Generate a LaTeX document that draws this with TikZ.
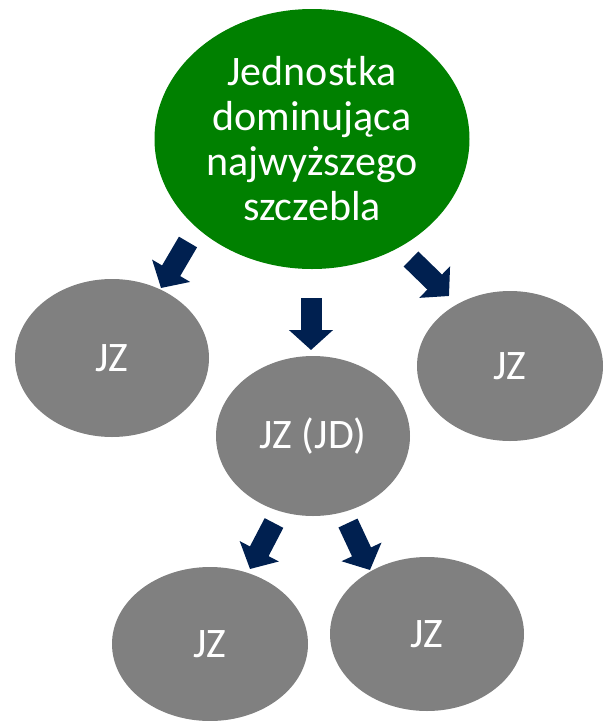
\documentclass[tikz,border=0pt]{standalone}
\usepackage{fontspec}
\setmainfont{Carlito}
\usetikzlibrary{shapes.geometric,arrows.meta}

\definecolor{topgreen}{RGB}{0,128,0}
\definecolor{unitgray}{RGB}{128,128,128}
\definecolor{arrnavy}{RGB}{0,32,80}

\begin{document}
\begin{tikzpicture}[
            x=1pt, y=-1pt,
            unit/.style={ellipse, fill=unitgray, inner sep=0pt, text=white,
                font=\fontsize{42}{45}\selectfont},
            topunit/.style={unit, fill=topgreen, align=center},
            blockarr/.style={draw=arrnavy, line width=21pt,
                -{Triangle[width=43pt, length=20pt]}}
        ]
        \useasboundingbox (0,0) rectangle (604,721);
        \node[topunit, minimum width=315pt, minimum height=260pt] (top) at (312,139)
            {Jednostka\\dominująca\\najwyższego\\szczebla};
        \node[unit, minimum width=194pt, minimum height=158pt] (jzl) at (112,358) {JZ};
        \node[unit, minimum width=186pt, minimum height=150pt] (jzr) at (510,366) {JZ};
        \node[unit, minimum width=194pt, minimum height=160pt] (jd)  at (313,436) {JZ (JD)};
        \node[unit, minimum width=196pt, minimum height=154pt] (jzbl) at (210,644) {JZ};
        \node[unit, minimum width=194pt, minimum height=154pt] (jzbr) at (427,634) {JZ};
        % arrow ends
        \coordinate (a1s) at (188,242); \coordinate (a1e) at (161,288);
        \coordinate (a2s) at (311,298); \coordinate (a2e) at (311,350);
        \coordinate (a3s) at (411,259); \coordinate (a3e) at (449,296);
        \coordinate (a4s) at (274,523); \coordinate (a4e) at (250,569);
        \coordinate (a5s) at (348,523); \coordinate (a5e) at (370,570);
        \draw[blockarr] (a1s) -- (a1e);
        \draw[blockarr] (a2s) -- (a2e);
        \draw[blockarr] (a3s) -- (a3e);
        \draw[blockarr] (a4s) -- (a4e);
        \draw[blockarr] (a5s) -- (a5e);
    \end{tikzpicture}
\end{document}
